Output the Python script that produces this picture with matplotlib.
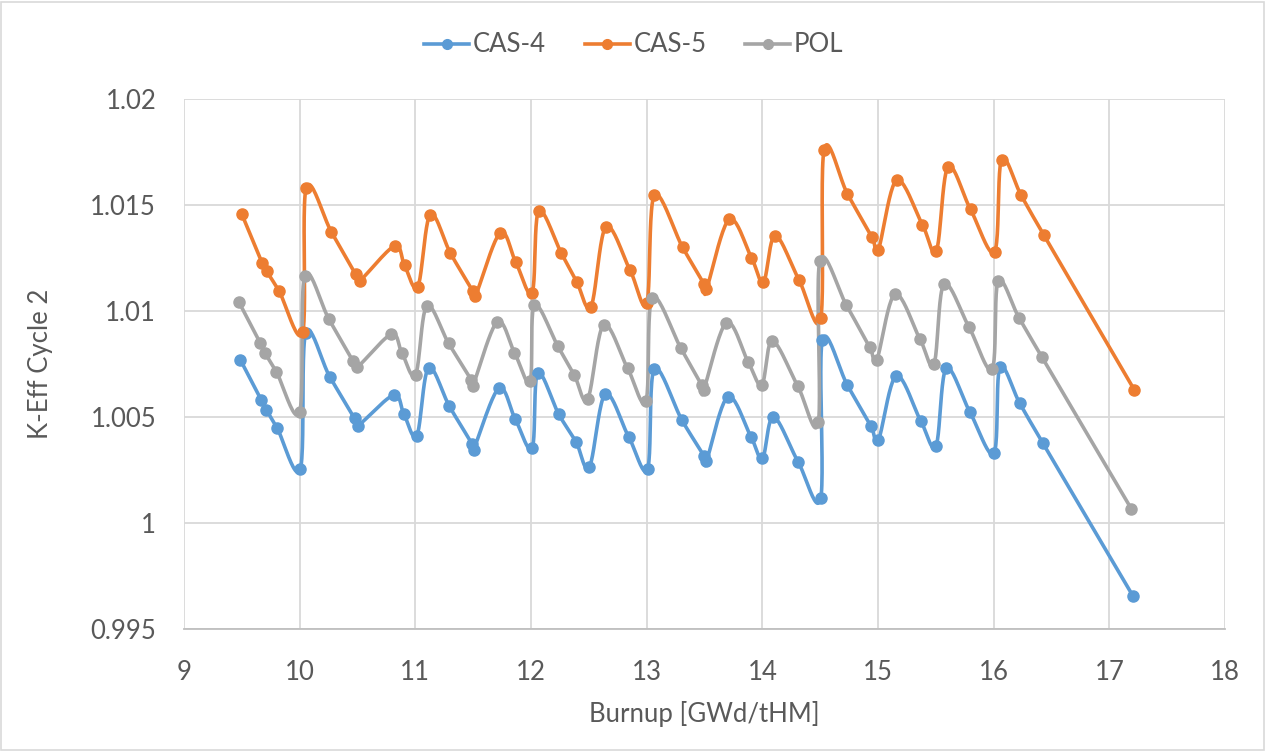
import numpy as np
import matplotlib
matplotlib.use("Agg")
import matplotlib.pyplot as plt
from matplotlib.patches import Rectangle

# burnup [GWd/tHM] and k-eff
cas4_x = [9.488, 9.669, 9.712, 9.807, 10.006, 10.052, 10.259, 10.475, 10.503, 10.812,
          10.901, 11.013, 11.114, 11.295, 11.491, 11.503, 11.721, 11.864, 12.010, 12.058,
          12.239, 12.389, 12.504, 12.642, 12.844, 13.008, 13.066, 13.305, 13.497, 13.517,
          13.702, 13.901, 14.001, 14.096, 14.309, 14.505, 14.519, 14.735, 14.937, 15.003,
          15.158, 15.369, 15.501, 15.590, 15.794, 16.002, 16.054, 16.226, 16.425, 17.205]
cas4_k = [1.00769, 1.00580, 1.00534, 1.00446, 1.00255, 1.00895, 1.00691, 1.00493, 1.00459, 1.00603,
          1.00514, 1.00412, 1.00732, 1.00550, 1.00372, 1.00346, 1.00635, 1.00490, 1.00352, 1.00707,
          1.00514, 1.00383, 1.00263, 1.00608, 1.00407, 1.00255, 1.00726, 1.00485, 1.00316, 1.00292,
          1.00595, 1.00407, 1.00305, 1.00501, 1.00289, 1.00118, 1.00862, 1.00650, 1.00459, 1.00391,
          1.00694, 1.00482, 1.00363, 1.00729, 1.00524, 1.00329, 1.00734, 1.00564, 1.00377, 0.99655]

cas5_x = [9.499, 9.676, 9.715, 9.823, 10.026, 10.056, 10.274, 10.484, 10.518, 10.820,
          10.907, 11.022, 11.129, 11.304, 11.497, 11.520, 11.733, 11.868, 12.010, 12.066,
          12.260, 12.395, 12.519, 12.648, 12.856, 13.001, 13.066, 13.310, 13.497, 13.517,
          13.713, 13.906, 14.010, 14.111, 14.318, 14.505, 14.534, 14.735, 14.946, 15.003,
          15.161, 15.383, 15.505, 15.605, 15.800, 16.008, 16.068, 16.238, 16.434, 17.217]
cas5_k = [1.01458, 1.01225, 1.01187, 1.01093, 1.00900, 1.01580, 1.01373, 1.01173, 1.01142, 1.01306,
          1.01215, 1.01115, 1.01455, 1.01272, 1.01094, 1.01071, 1.01369, 1.01231, 1.01087, 1.01471,
          1.01275, 1.01138, 1.01021, 1.01397, 1.01193, 1.01036, 1.01545, 1.01301, 1.01126, 1.01102,
          1.01432, 1.01251, 1.01137, 1.01356, 1.01145, 1.00966, 1.01761, 1.01553, 1.01350, 1.01290,
          1.01617, 1.01408, 1.01284, 1.01680, 1.01479, 1.01280, 1.01714, 1.01545, 1.01358, 1.00627]

pol_x = [9.473, 9.661, 9.698, 9.799, 10.000, 10.043, 10.253, 10.460, 10.495, 10.792,
         10.883, 11.002, 11.099, 11.287, 11.483, 11.497, 11.707, 11.857, 11.992, 12.029,
         12.231, 12.375, 12.490, 12.628, 12.835, 12.994, 13.048, 13.296, 13.476, 13.493,
         13.690, 13.877, 13.996, 14.087, 14.307, 14.484, 14.497, 14.727, 14.929, 14.989,
         15.147, 15.363, 15.484, 15.570, 15.786, 15.987, 16.039, 16.218, 16.419, 17.191]
pol_k = [1.01044, 1.00848, 1.00804, 1.00713, 1.00524, 1.01165, 1.00961, 1.00765, 1.00734, 1.00890,
         1.00804, 1.00699, 1.01024, 1.00848, 1.00675, 1.00647, 1.00948, 1.00804, 1.00668, 1.01028,
         1.00835, 1.00697, 1.00584, 1.00934, 1.00730, 1.00576, 1.01062, 1.00824, 1.00650, 1.00628,
         1.00945, 1.00760, 1.00652, 1.00859, 1.00645, 1.00475, 1.01235, 1.01027, 1.00828, 1.00769,
         1.01079, 1.00867, 1.00749, 1.01126, 1.00925, 1.00726, 1.01141, 1.00969, 1.00781, 1.00066]

series = [("CAS-4", cas4_x, cas4_k, "#5B9BD5"),
          ("CAS-5", cas5_x, cas5_k, "#ED7D31"),
          ("POL", pol_x, pol_k, "#A5A5A5")]


def smooth(x, y, n=24):
    # excel style smoothed line: catmull-rom segments as cubic bezier
    p = np.column_stack([x, y]).astype(float)
    p = np.vstack([p[0], p, p[-1]])
    t = np.linspace(0, 1, n)[:, None]
    out = []
    for i in range(1, len(p) - 2):
        p0, p1, p2, p3 = p[i - 1], p[i], p[i + 1], p[i + 2]
        c1 = p1 + (p2 - p0) / 6
        c2 = p2 - (p3 - p1) / 6
        seg = ((1 - t) ** 3) * p1 + 3 * ((1 - t) ** 2) * t * c1 + 3 * (1 - t) * t ** 2 * c2 + t ** 3 * p2
        out.append(seg if i == 1 else seg[1:])
    out = np.vstack(out)
    return out[:, 0], out[:, 1]


plt.rcParams['font.family'] = ['Lato', 'DejaVu Sans']
txt = "#595959"
fs = 18.5

fig = plt.figure(figsize=(12.68, 7.52), dpi=100)
ax = fig.add_axes([184 / 1268, 1 - 629 / 752, (1225 - 184) / 1268, (629 - 99) / 752])

for name, x, k, col in series:
    sx, sy = smooth(x, k)
    ax.plot(sx, sy, color=col, lw=2.6, solid_capstyle="round", zorder=3)
    ax.plot(x, k, ls="none", marker="o", ms=8, color=col, zorder=4)
    ax.plot([], [], color=col, lw=2.6, marker="o", ms=7, label=name)

ax.set_xlim(9, 18)
ax.set_ylim(0.995, 1.02)
ax.set_xticks(np.arange(9, 19, 1))
ax.set_yticks([0.995, 1.0, 1.005, 1.01, 1.015, 1.02])
ax.set_yticklabels(["0.995", "1", "1.005", "1.01", "1.015", "1.02"])
ax.grid(True, color="#d9d9d9", lw=1.3, zorder=0)
ax.set_axisbelow(True)
for s in ax.spines.values():
    s.set_visible(False)
ax.spines["bottom"].set_visible(True)
ax.spines["bottom"].set_color("#bfbfbf")
ax.spines["bottom"].set_linewidth(1.3)
ax.tick_params(length=0, labelsize=fs, labelcolor=txt)
ax.tick_params(axis="x", pad=22)
ax.tick_params(axis="y", pad=20)

ax.set_xlabel("Burnup [GWd/tHM]", fontsize=fs, color=txt, va="center")
ax.set_ylabel("K-Eff Cycle 2", fontsize=fs, color=txt, va="center")
ax.xaxis.set_label_coords(0.5, (629 - 714) / 530)
ax.yaxis.set_label_coords((40 - 184) / 1041, 0.5)

fig.legend(loc="center", bbox_to_anchor=(0.5, 1 - 45 / 752), ncol=3, frameon=False,
           fontsize=fs, handlelength=1.75, handletextpad=0.15, columnspacing=1.5,
           labelcolor=txt)

fig.patches.append(Rectangle((0.001, 0.002), 0.996, 0.996, transform=fig.transFigure,
                             fill=False, edgecolor="#d9d9d9", lw=1.2))

fig.savefig("out.png", dpi=100)
